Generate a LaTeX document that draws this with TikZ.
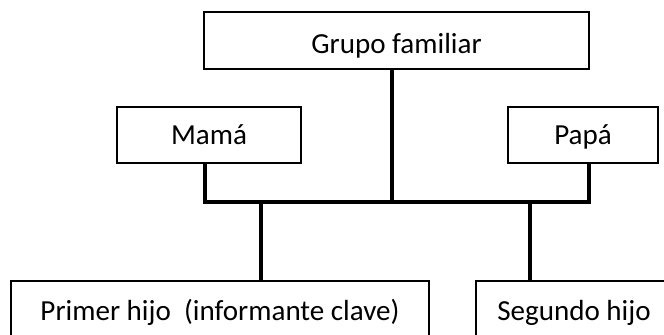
\documentclass[tikz,border=0pt]{standalone}
\usepackage{fontspec}
\setmainfont{Carlito}
\begin{document}
\begin{tikzpicture}[x=0.75pt,y=-0.75pt,
  box/.style={draw=black, line width=1.1pt, fill=white, inner sep=0pt,
    font=\fontsize{21.8}{26}\selectfont, text height=14pt, text depth=0pt},
  link/.style={line width=3.4pt, line join=miter, line cap=butt}]
\useasboundingbox (0,0) rectangle (664,335);
\clip (0,0) rectangle (664,335);
\node[box, minimum width=288.75pt, minimum height=42.75pt, text height=20pt] (grupo) at (396.5,40.5) {Grupo familiar};
\node[box, minimum width=138pt, minimum height=42pt] (mama) at (209,135) {Mamá};
\node[box, minimum width=112.5pt, minimum height=42pt] (papa) at (583,135) {Papá};
\node[box, minimum width=313.5pt, minimum height=45pt] (primer) at (220,311) {Primer hijo\ \ (informante clave)};
\node[box, minimum width=147pt, minimum height=45pt] (segundo) at (574,311) {Segundo hijo};
\coordinate (barL) at (205,202);
\coordinate (barR) at (589,202);
\coordinate (g) at (392,202);
\coordinate (c1) at (261,202);
\coordinate (c2) at (530,202);
\draw[link] (mama.south -| barL) |- (barR) -- (papa.south -| barR);
\draw[link] (grupo.south -| g) -- (g);
\draw[link] (c1) -- (primer.north -| c1);
\draw[link] (c2) -- (segundo.north -| c2);
\end{tikzpicture}
\end{document}
